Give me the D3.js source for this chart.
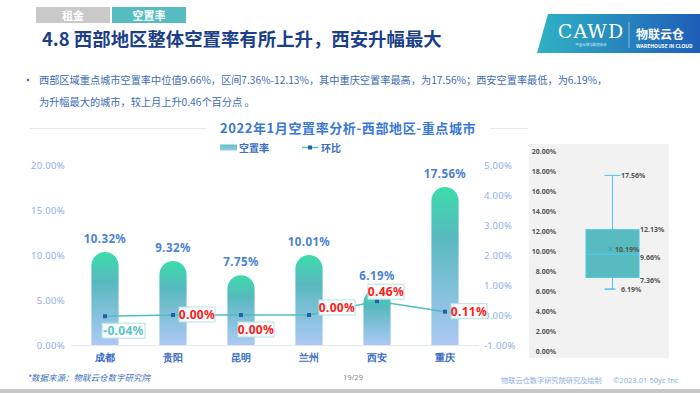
<!DOCTYPE html>
<html>
<head>
<meta charset="utf-8">
<style>
  body { margin: 0; background: #fff; }
  svg { display: block; font-family: "Noto Sans CJK SC", "Noto Sans", sans-serif; }
</style>
</head>
<body>
<svg id="chart" width="700" height="393"></svg>
<script src="https://cdn.jsdelivr.net/npm/d3@7"></script>
<script>

// data
const cities = ['成都', '贵阳', '昆明', '兰州', '西安', '重庆'];
const vacancy = [10.32, 9.32, 7.75, 10.01, 6.19, 17.56];   // 空置率 %
const momChange = [-0.04, 0.00, 0.00, 0.00, 0.46, 0.11];  // 环比 %
const leftTicks = [0, 5, 10, 15, 20];
const rightTicks = [-1, 0, 1, 2, 3, 4, 5];
const boxTicks = [0, 2, 4, 6, 8, 10, 12, 14, 16, 18, 20];
// box plot summary: min, q1, median, mean, q3, max
const boxStats = { min: 6.19, q1: 7.36, median: 9.66, mean: 10.19, q3: 12.13, max: 17.56 };

// where each 环比 label sits relative to its marker
const labelPlace = ['below', 'right', 'below', 'upright', 'above', 'right'];

const colors = { navy: '#1c3f8a', blue: '#3b6cc4', axis: '#8db0ea', teal: '#4ebfbf',
                 marker: '#2b5bb0', red: '#ff1a1a', panel: '#f2f2f2', whisker: '#4ec6ea' };

const svg = d3.select('#chart');
const defs = svg.append('defs');
const fmt = d => d.toFixed(2) + '%';

// ---------- header ----------
svg.append('rect').attr('x', 36).attr('y', 7).attr('width', 74).attr('height', 16).attr('fill', '#c9c9c9');
svg.append('rect').attr('x', 112).attr('y', 7).attr('width', 74).attr('height', 16).attr('fill', '#56bcc0');
svg.append('text').attr('x', 73).attr('y', 19.5).attr('text-anchor', 'middle')
  .attr('fill', '#fff').attr('font-size', 11).attr('font-weight', 'bold').text('租金');
svg.append('text').attr('x', 149).attr('y', 19.5).attr('text-anchor', 'middle')
  .attr('fill', '#fff').attr('font-size', 11).attr('font-weight', 'bold').text('空置率');

svg.append('text').attr('x', 42).attr('y', 46).attr('fill', colors.navy)
  .attr('font-size', 18.4).attr('font-weight', 'bold')
  .text('4.8 西部地区整体空置率有所上升，西安升幅最大');

// logo block
const logoGrad = defs.append('linearGradient').attr('id', 'logoGrad')
  .attr('x1', 0).attr('x2', 1).attr('y1', 0).attr('y2', 0);
logoGrad.append('stop').attr('offset', '0%').attr('stop-color', '#2fb2c4');
logoGrad.append('stop').attr('offset', '100%').attr('stop-color', '#1f5db8');
svg.append('path').attr('d', 'M548,14 L700,14 L700,53 L537,53 Z').attr('fill', 'url(#logoGrad)');
svg.append('text').attr('x', 591).attr('y', 38).attr('text-anchor', 'middle')
  .attr('fill', '#fff').attr('font-size', 19).attr('font-family', 'DejaVu Serif, serif')
  .attr('font-weight', 200).attr('letter-spacing', 1).text('CAWD');
svg.append('text').attr('x', 591).attr('y', 46).attr('text-anchor', 'middle')
  .attr('fill', '#dfefff').attr('font-size', 3.5).text('中国仓储与配送协会');
svg.append('line').attr('x1', 629).attr('x2', 629).attr('y1', 22).attr('y2', 48)
  .attr('stroke', '#cfe4ff').attr('stroke-width', 0.6);
svg.append('text').attr('x', 636).attr('y', 39).attr('fill', '#fff')
  .attr('font-size', 12).attr('font-weight', 'bold').text('物联云仓');
svg.append('text').attr('x', 636).attr('y', 48).attr('fill', '#fff')
  .attr('font-size', 5).attr('font-weight', 'bold').text('WAREHOUSE IN CLOUD');

// bullet paragraph
svg.append('circle').attr('cx', 28).attr('cy', 80).attr('r', 1.3).attr('fill', colors.blue);
const para = svg.append('text').attr('fill', '#3b6cb5').attr('font-size', 10.2);
para.append('tspan').attr('x', 39).attr('y', 84)
  .text('西部区域重点城市空置率中位值9.66%，区间7.36%-12.13%，其中重庆空置率最高，为17.56%；西安空置率最低，为6.19%，');
para.append('tspan').attr('x', 39).attr('y', 106)
  .text('为升幅最大的城市，较上月上升0.46个百分点 。');

// ---------- main chart ----------
svg.append('text').attr('x', 348).attr('y', 133).attr('text-anchor', 'middle')
  .attr('fill', '#3a78d8').attr('font-size', 13).attr('font-weight', 'bold').attr('letter-spacing', 0.6)
  .text('2022年1月空置率分析-西部地区-重点城市');
svg.append('line').attr('x1', 30).attr('x2', 207).attr('y1', 128.5).attr('y2', 128.5).attr('stroke', '#e8e8e8');
svg.append('line').attr('x1', 490).attr('x2', 528).attr('y1', 128.5).attr('y2', 128.5).attr('stroke', '#e8e8e8');

const x = d3.scaleBand().domain(cities).range([71, 479]).paddingInner(0.6).paddingOuter(0.3);
const yL = d3.scaleLinear().domain([0, 20]).range([345, 165]);
const yR = d3.scaleLinear().domain([-1, 5]).range([345, 165]);

// per-bar gradient: green top -> teal -> light blue bottom
const barGrad = defs.append('linearGradient').attr('id', 'barGrad')
  .attr('x1', 0).attr('x2', 0).attr('y1', 0).attr('y2', 1);
barGrad.append('stop').attr('offset', '0%').attr('stop-color', '#3cdcaa');
barGrad.append('stop').attr('offset', '32%').attr('stop-color', '#58b9bf');
barGrad.append('stop').attr('offset', '100%').attr('stop-color', '#adc9f5');
const legGrad = defs.append('linearGradient').attr('id', 'legGrad')
  .attr('x1', 0).attr('x2', 0).attr('y1', 0).attr('y2', 1);
legGrad.append('stop').attr('offset', '0%').attr('stop-color', '#58c6bf');
legGrad.append('stop').attr('offset', '100%').attr('stop-color', '#9ec4ec');

// legend
svg.append('rect').attr('x', 220).attr('y', 144.5).attr('width', 17).attr('height', 6).attr('fill', 'url(#legGrad)');
svg.append('text').attr('x', 239).attr('y', 151.5).attr('fill', colors.blue)
  .attr('font-size', 10).attr('font-weight', 'bold').text('空置率');
svg.append('line').attr('x1', 302).attr('x2', 318).attr('y1', 147.5).attr('y2', 147.5)
  .attr('stroke', colors.teal).attr('stroke-width', 1.5);
svg.append('rect').attr('x', 308).attr('y', 145.5).attr('width', 4).attr('height', 4).attr('fill', colors.marker);
svg.append('text').attr('x', 321).attr('y', 151.5).attr('fill', colors.blue)
  .attr('font-size', 10).attr('font-weight', 'bold').text('环比');

// axes
const axisL = svg.append('g').attr('transform', 'translate(65,0)')
  .call(d3.axisLeft(yL).tickValues(leftTicks).tickFormat(fmt).tickSize(0).tickPadding(0));
const axisR = svg.append('g').attr('transform', 'translate(484,0)')
  .call(d3.axisRight(yR).tickValues(rightTicks).tickFormat(fmt).tickSize(0).tickPadding(0));
[axisL, axisR].forEach(g => {
  g.select('.domain').remove();
  g.selectAll('text').attr('fill', colors.axis).attr('font-size', 9.5)
    .attr('font-family', 'Noto Sans, sans-serif').attr('letter-spacing', 0.3);
});

svg.append('line').attr('x1', 71).attr('x2', 479).attr('y1', yL(0) + 0.5).attr('y2', yL(0) + 0.5)
  .attr('stroke', '#e3e9f3');

const xAxis = svg.append('g').attr('transform', `translate(0,${yL(0)})`)
  .call(d3.axisBottom(x).tickSize(0).tickPadding(9));
xAxis.select('.domain').remove();
xAxis.selectAll('text').attr('fill', colors.blue).attr('font-size', 10).attr('font-weight', 'bold');

// bars with rounded tops
const bw = x.bandwidth();
const r = bw / 2;
svg.append('g').selectAll('path').data(cities).join('path')
  .attr('fill', 'url(#barGrad)')
  .attr('d', (c, i) => {
    const x0 = x(c), top = yL(vacancy[i]), bot = yL(0);
    return `M${x0},${bot} L${x0},${top + r} A${r},${r} 0 0 1 ${x0 + bw},${top + r} L${x0 + bw},${bot} Z`;
  });

svg.append('g').selectAll('text').data(cities).join('text')
  .attr('x', c => x(c) + bw / 2)
  .attr('y', (c, i) => yL(vacancy[i]) - 9)
  .attr('text-anchor', 'middle').attr('fill', '#4a80d8')
  .attr('font-size', 11.5).attr('font-weight', 'bold').attr('font-family', 'Noto Sans, sans-serif')
  .attr('letter-spacing', 0.4)
  .text((c, i) => fmt(vacancy[i]));

// 环比 line
const cx = c => x(c) + bw / 2;
const line = d3.line().x(d => cx(d.c)).y(d => yR(d.v));
const pts = cities.map((c, i) => ({ c, v: momChange[i], place: labelPlace[i] }));
svg.append('path').datum(pts).attr('d', line).attr('fill', 'none')
  .attr('stroke', colors.teal).attr('stroke-width', 1.6);
svg.append('g').selectAll('rect').data(pts).join('rect')
  .attr('x', d => cx(d.c) - 2).attr('y', d => yR(d.v) - 2)
  .attr('width', 4).attr('height', 4).attr('fill', colors.marker);

// 环比 labels in boxes
const labelOffset = {
  below: [-3, 7], right: [6, -8], upright: [10, -15], above: [-9, -17]
};
const lab = svg.append('g').selectAll('g').data(pts).join('g')
  .attr('transform', d => {
    const o = labelOffset[d.place];
    return `translate(${cx(d.c) + o[0]},${yR(d.v) + o[1]})`;
  });
lab.append('rect').attr('width', d => d.v < 0 ? 43 : 36).attr('height', 15)
  .attr('fill', 'rgba(255,255,255,0.9)').attr('stroke', '#b3e2e2').attr('stroke-width', 1);
lab.append('text').attr('x', d => (d.v < 0 ? 43 : 36) / 2).attr('y', 12)
  .attr('text-anchor', 'middle').attr('font-size', 12).attr('font-weight', 'bold')
  .attr('font-family', 'Noto Sans, sans-serif').attr('letter-spacing', 0.3)
  .attr('fill', d => d.v < 0 ? '#5cc4c4' : colors.red)
  .text(d => fmt(d.v));

// ---------- box plot panel ----------
svg.append('rect').attr('x', 529).attr('y', 144).attr('width', 140).attr('height', 214).attr('fill', colors.panel);
const yB = d3.scaleLinear().domain([0, 20]).range([351, 151]);
const axisB = svg.append('g').attr('transform', 'translate(556,0)')
  .call(d3.axisLeft(yB).tickValues(boxTicks).tickFormat(fmt).tickSize(0).tickPadding(0));
axisB.select('.domain').remove();
axisB.selectAll('text').attr('fill', '#555').attr('font-size', 7).attr('font-weight', 'bold')
  .attr('font-family', 'Noto Sans, sans-serif');

const bx0 = 586, bx1 = 639, bmid = (bx0 + bx1) / 2;
const bp = svg.append('g');
bp.append('line').attr('x1', bmid).attr('x2', bmid).attr('y1', yB(boxStats.max)).attr('y2', yB(boxStats.q3))
  .attr('stroke', colors.whisker).attr('stroke-width', 1);
bp.append('line').attr('x1', bmid).attr('x2', bmid).attr('y1', yB(boxStats.q1)).attr('y2', yB(boxStats.min))
  .attr('stroke', colors.whisker).attr('stroke-width', 1);
bp.append('line').attr('x1', bmid - 8).attr('x2', bmid + 8).attr('y1', yB(boxStats.max)).attr('y2', yB(boxStats.max))
  .attr('stroke', colors.whisker).attr('stroke-width', 1);
bp.append('line').attr('x1', bmid - 8).attr('x2', bmid + 3).attr('y1', yB(boxStats.min)).attr('y2', yB(boxStats.min))
  .attr('stroke', colors.whisker).attr('stroke-width', 1.5);
bp.append('rect').attr('x', bx0).attr('y', yB(boxStats.q3)).attr('width', bx1 - bx0)
  .attr('height', yB(boxStats.q1) - yB(boxStats.q3))
  .attr('fill', '#58bbbf').attr('stroke', colors.whisker).attr('stroke-width', 1);
bp.append('line').attr('x1', bx0).attr('x2', bx1).attr('y1', yB(boxStats.median)).attr('y2', yB(boxStats.median))
  .attr('stroke', colors.whisker).attr('stroke-width', 1.2);
const my = yB(boxStats.mean), mx = bmid - 2;
bp.append('path').attr('d', `M${mx - 2},${my - 2}L${mx + 2},${my + 2}M${mx - 2},${my + 2}L${mx + 2},${my - 2}`)
  .attr('stroke', '#2f9bd0').attr('stroke-width', 0.9);

const boxLabels = [
  { v: boxStats.max, x: 621 }, { v: boxStats.q3, x: 640 }, { v: boxStats.mean, x: 615 },
  { v: boxStats.median, x: 640, dy: 3 }, { v: boxStats.q1, x: 640, dy: 3 }, { v: boxStats.min, x: 621 }
];
bp.selectAll('text').data(boxLabels).join('text')
  .attr('x', d => d.x).attr('y', d => yB(d.v) + 2.5 + (d.dy || 0))
  .attr('fill', '#555').attr('font-size', 7).attr('font-weight', 'bold')
  .attr('font-family', 'Noto Sans, sans-serif')
  .text(d => fmt(d.v));

// ---------- footer ----------
svg.append('text').attr('x', 27).attr('y', 381).attr('fill', '#3a6fc0').attr('font-size', 8.5)
  .attr('font-style', 'italic').text('*数据来源：物联云仓数字研究院');
svg.append('text').attr('x', 343).attr('y', 380).attr('fill', '#888').attr('font-size', 7.5)
  .attr('font-family', 'Noto Sans, sans-serif').text('19/29');
svg.append('text').attr('x', 501).attr('y', 383).attr('fill', '#8fb0e0').attr('font-size', 7.2)
  .text('物联云仓数字研究院研究及绘制');
svg.append('text').attr('x', 613).attr('y', 383).attr('fill', '#8fb0e0').attr('font-size', 7.6)
  .attr('font-family', 'Noto Sans, sans-serif').text('©2023.01 50yc Inc');
svg.append('rect').attr('x', 0).attr('y', 389).attr('width', 700).attr('height', 4).attr('fill', '#c8c8c8');

</script>
</body>
</html>
